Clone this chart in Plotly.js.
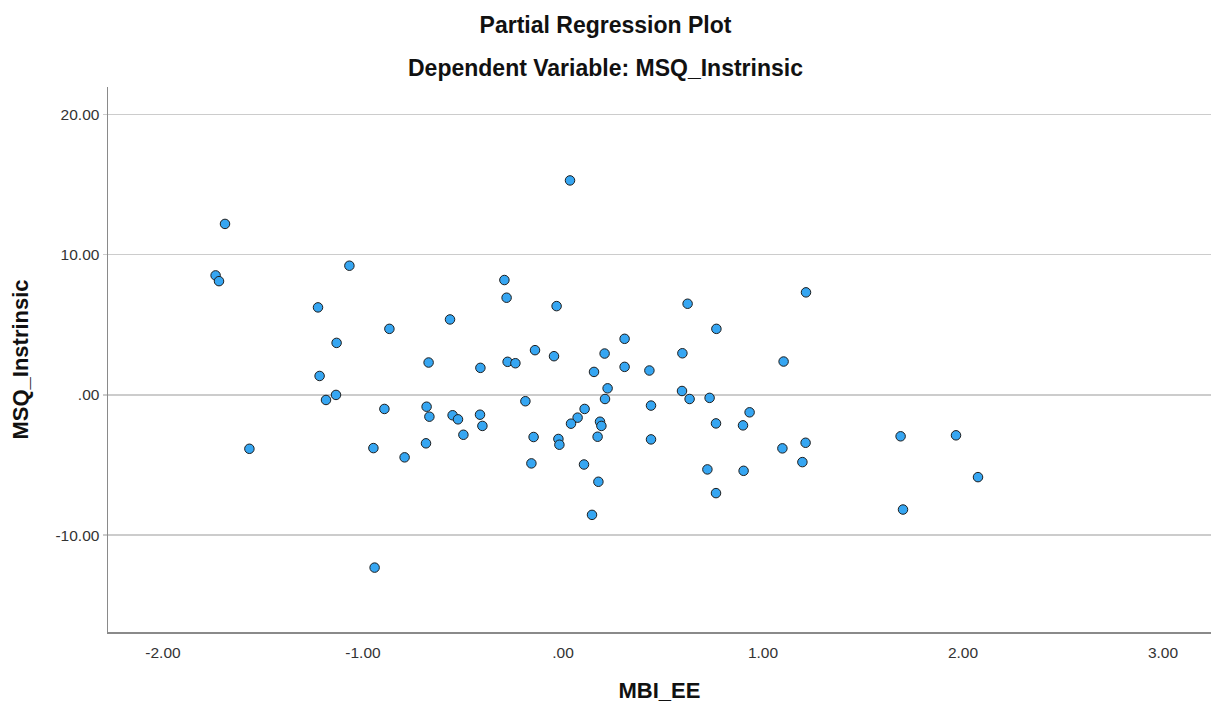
<!DOCTYPE html>
<html>
<head>
<meta charset="utf-8">
<script src="https://cdn.plot.ly/plotly-3.0.1.min.js"></script>
<style>html,body{margin:0;padding:0;background:#fff;}#chart{width:1211px;height:708px;}</style>
</head>
<body>
<div id="chart"></div>
<script>
const mbiEE = [
  -1.69, -1.737, -1.72, -1.068, -1.225, -0.868, -0.565, -1.132, -0.672, -0.413,
  -1.217, -1.135, -1.185, -0.893, -0.682, -0.668, -0.552, -0.525, -0.415, -0.403,
  -0.498, -1.568, -0.948, -0.685, -0.792, -0.942, 0.035, -0.293, -0.282, -0.032,
  0.623, 1.215, 0.767, 0.308, -0.14, -0.277, -0.238, -0.045, 0.208, 0.155,
  0.308, 0.432, 0.597, 1.103, 0.223, 0.21, 0.595, 0.633, 0.733, -0.188,
  0.44, 0.933, 0.108, 0.073, 0.04, 0.185, 0.192, 0.173, -0.147, -0.023,
  -0.018, 0.44, 0.765, 0.9, 1.097, 1.213, 1.197, -0.158, 0.105, 0.722,
  0.903, 0.177, 0.765, 0.145, 1.688, 1.965, 2.075, 1.7
];
const msqIntrinsic = [
  12.19, 8.52, 8.11, 9.21, 6.24, 4.71, 5.38, 3.71, 2.31, 1.93,
  1.35, 0.0, -0.36, -1.0, -0.84, -1.55, -1.45, -1.74, -1.41, -2.21,
  -2.84, -3.84, -3.79, -3.45, -4.45, -12.31, 15.29, 8.19, 6.93, 6.33,
  6.5, 7.31, 4.71, 4.0, 3.19, 2.36, 2.26, 2.76, 2.95, 1.64,
  2.0, 1.74, 2.97, 2.38, 0.47, -0.29, 0.28, -0.29, -0.21, -0.45,
  -0.76, -1.24, -1.0, -1.62, -2.05, -1.91, -2.21, -2.98, -3.0, -3.14,
  -3.55, -3.17, -2.03, -2.17, -3.81, -3.41, -4.79, -4.88, -4.96, -5.31,
  -5.41, -6.19, -7.0, -8.55, -2.95, -2.88, -5.86, -8.17
];
const xTickVals = [-2, -1, 0, 1, 2, 3];
const xTickText = ["-2.00", "-1.00", ".00", "1.00", "2.00", "3.00"];
const yTickVals = [-10, 0, 10, 20];
const yTickText = ["-10.00", ".00", "10.00", "20.00"];
const titleText = 'Partial Regression Plot';
const subtitleText = 'Dependent Variable: MSQ_Instrinsic';

const FONT = 'Arial, "Liberation Sans", sans-serif';

const trace = {
  type: 'scatter',
  mode: 'markers',
  x: mbiEE,
  y: msqIntrinsic,
  marker: {size: 9.5, color: '#36a6f2', line: {color: '#1e1e1e', width: 1}},
  hoverinfo: 'x+y'
};

const layout = {
  width: 1211, height: 708,
  paper_bgcolor: '#fff', plot_bgcolor: '#fff',
  margin: {l: 108, r: 0, t: 87, b: 76},
  showlegend: false,
  font: {family: FONT, color: '#222'},
  title: {
    text: titleText,
    x: 0.5, xref: 'container', xanchor: 'center',
    y: 1 - 25 / 708, yref: 'container', yanchor: 'middle',
    font: {size: 23, weight: 'bold', color: '#111', family: FONT}
  },
  annotations: [{
    text: subtitleText,
    xref: 'paper', yref: 'paper',
    x: (605.5 - 108) / 1103, xanchor: 'center',
    y: 1 + 19 / 545, yanchor: 'middle',
    showarrow: false,
    font: {size: 23, weight: 'bold', color: '#111', family: FONT}
  }],
  xaxis: {
    range: [-2.275, 3.24],
    tickvals: xTickVals, ticktext: xTickText,
    showgrid: false, zeroline: false,
    showline: true, linecolor: '#8a8a8a', linewidth: 1.5,
    ticks: '', ticklabelstandoff: 6,
    tickfont: {size: 15.5, color: '#333'},
    title: {text: 'MBI_EE', standoff: 22, font: {size: 22, weight: 'bold', color: '#111'}}
  },
  yaxis: {
    range: [-16.9, 21.95],
    tickvals: yTickVals, ticktext: yTickText,
    showgrid: true, gridcolor: '#cccccc', gridwidth: 1.5,
    zeroline: false,
    showline: true, linecolor: '#8a8a8a', linewidth: 1.5,
    ticks: 'outside', ticklen: 4, tickcolor: '#cccccc', tickwidth: 1.5,
    tickfont: {size: 15.5, color: '#333'},
    title: {text: 'MSQ_Instrinsic', standoff: 20, font: {size: 22, weight: 'bold', color: '#111'}}
  }
};

Plotly.newPlot('chart', [trace], layout, {displayModeBar: false, staticPlot: true});
</script>
</body>
</html>
